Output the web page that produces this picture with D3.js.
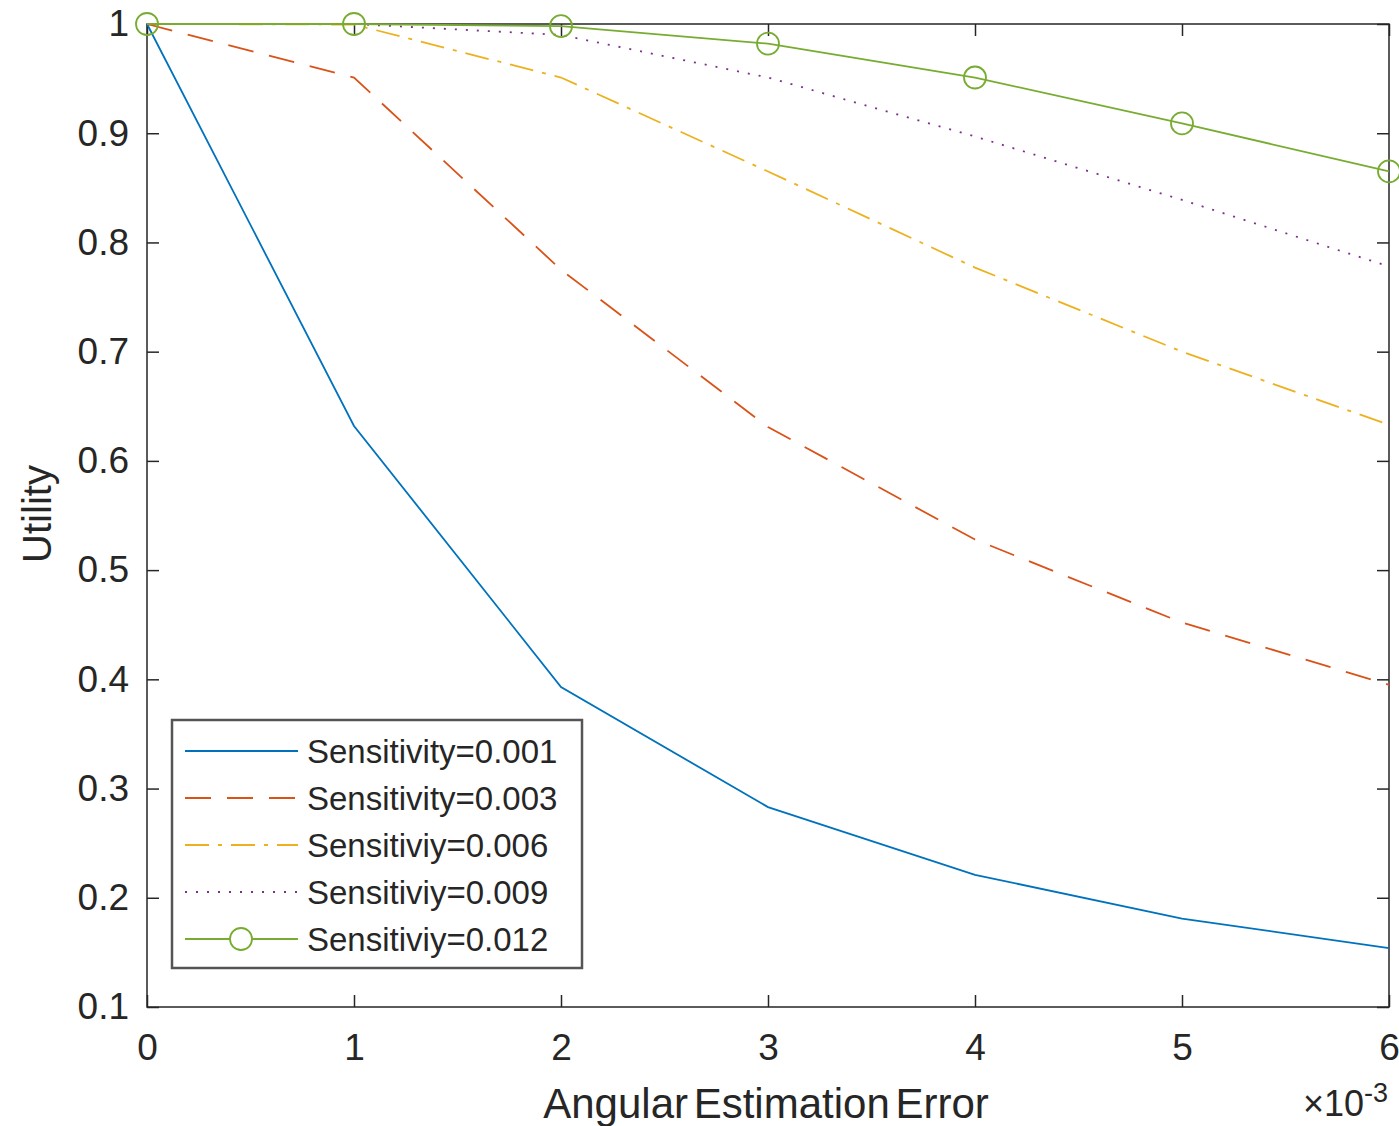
<!doctype html>
<html>
<head>
<title>Utility vs Angular Estimation Error</title>
<script src="https://d3js.org/d3.v7.min.js"></script>
<style>
  body { margin: 0; background: #fff; }
  svg { display: block; font-family: "Liberation Sans", Arial, sans-serif; }
  .axis path { display: none; }
  .axis line { stroke: #262626; stroke-width: 1.5; }
  .axis text { fill: #262626; font-size: 37px; font-family: "Liberation Sans", Arial, sans-serif; }
</style>
</head>
<body>
<script>
  // x values (units of 1e-3)
  var errors = [0, 1, 2, 3, 4, 5, 6];

  var labels = ["Sensitivity=0.001", "Sensitivity=0.003", "Sensitiviy=0.006", "Sensitiviy=0.009", "Sensitiviy=0.012"];

  var s001 = [1, 0.632, 0.393, 0.283, 0.221, 0.181, 0.154];
  var s003 = [1, 0.951, 0.775, 0.631, 0.528, 0.452, 0.395];
  var s006 = [1, 0.9995, 0.951, 0.865, 0.777, 0.700, 0.633];
  var s009 = [1, 1, 0.99, 0.951, 0.897, 0.839, 0.778];
  var s012 = [1, 1, 0.998, 0.982, 0.951, 0.909, 0.865];

  var xTicks = [0, 1, 2, 3, 4, 5, 6];
  var yTicks = [0.1, 0.2, 0.3, 0.4, 0.5, 0.6, 0.7, 0.8, 0.9, 1];

  var colors = ["#0072BD", "#D95319", "#EDB120", "#7E2F8E", "#77AC30"];
  var dashes = [null, "26,16", "24,9,4,9", "2,9", null];

  var series = [s001, s003, s006, s009, s012];

  var margin = {top: 24, right: 10, bottom: 119, left: 147};

  var svg = d3.select("body").append("svg")
      .attr("width", 1399).attr("height", 1126);

  var g = svg.append("g").attr("transform", "translate(" + margin.left + "," + margin.top + ")");

  var x = d3.scaleLinear().domain([0, 6]).range([0, 1242]);
  var y = d3.scaleLinear().domain([0.1, 1]).range([983, 0]);

  var line = d3.line().x(function(d, i){ return x(errors[i]); }).y(function(d){ return y(d); });

  // axes, ticks pointing inward
  g.append("g").attr("class", "axis").attr("transform", "translate(0,983)")
    .call(d3.axisBottom(x).tickValues(xTicks).tickSize(-12).tickPadding(27).tickFormat(d3.format("d")));
  g.append("g").attr("class", "axis")
    .call(d3.axisTop(x).tickValues(xTicks).tickSize(-12).tickFormat(""));
  g.append("g").attr("class", "axis")
    .call(d3.axisLeft(y).tickValues(yTicks).tickSize(-12).tickPadding(18).tickFormat(function(d){ return d === 1 ? "1" : d3.format(".1f")(d); }));
  g.append("g").attr("class", "axis").attr("transform", "translate(1242,0)")
    .call(d3.axisRight(y).tickValues(yTicks).tickSize(-12).tickFormat(""));

  g.append("rect").attr("width", 1242).attr("height", 983)
    .attr("fill", "none").attr("stroke", "#262626").attr("stroke-width", 1.5);

  // lines
  series.forEach(function(s, k){
    g.append("path").datum(s)
      .attr("fill", "none")
      .attr("stroke", colors[k])
      .attr("stroke-width", 1.8)
      .attr("stroke-dasharray", dashes[k])
      .attr("d", line);
  });

  g.selectAll(".marker").data(s012).enter().append("circle")
    .attr("cx", function(d, i){ return x(errors[i]); })
    .attr("cy", function(d){ return y(d); })
    .attr("r", 11)
    .attr("fill", "none").attr("stroke", colors[4]).attr("stroke-width", 1.8);

  // axis labels
  svg.append("text").attr("x", 766).attr("y", 1118).attr("text-anchor", "middle")
    .attr("font-size", 42).attr("fill", "#262626").attr("word-spacing", -6)
    .text("Angular Estimation Error");

  svg.append("text").attr("transform", "translate(51,514) rotate(-90)").attr("text-anchor", "middle")
    .attr("font-size", 40).attr("fill", "#262626")
    .text("Utility");

  var mult = svg.append("text").attr("x", 1388).attr("y", 1116).attr("text-anchor", "end")
    .attr("font-size", 36).attr("fill", "#262626");
  mult.append("tspan").text("\u00d7").attr("font-size", 36);
  mult.append("tspan").text("10");
  mult.append("tspan").text("-3").attr("font-size", 27).attr("dy", -14);

  // legend
  var leg = svg.append("g").attr("transform", "translate(172,720)");
  leg.append("rect").attr("width", 410).attr("height", 248)
    .attr("fill", "#fff").attr("stroke", "#555").attr("stroke-width", 2.5);

  labels.forEach(function(lab, k){
    var yy = 31 + k * 47;
    leg.append("line").attr("x1", 13).attr("x2", 126).attr("y1", yy).attr("y2", yy)
      .attr("stroke", colors[k]).attr("stroke-width", 1.8).attr("stroke-dasharray", dashes[k]);
    if (k === 4) {
      leg.append("circle").attr("cx", 69).attr("cy", yy).attr("r", 11)
        .attr("fill", "#fff").attr("stroke", colors[k]).attr("stroke-width", 1.8);
    }
    leg.append("text").attr("x", 135).attr("y", yy + 12)
      .attr("font-size", 33).attr("fill", "#262626").text(lab);
  });
</script>
</body>
</html>
